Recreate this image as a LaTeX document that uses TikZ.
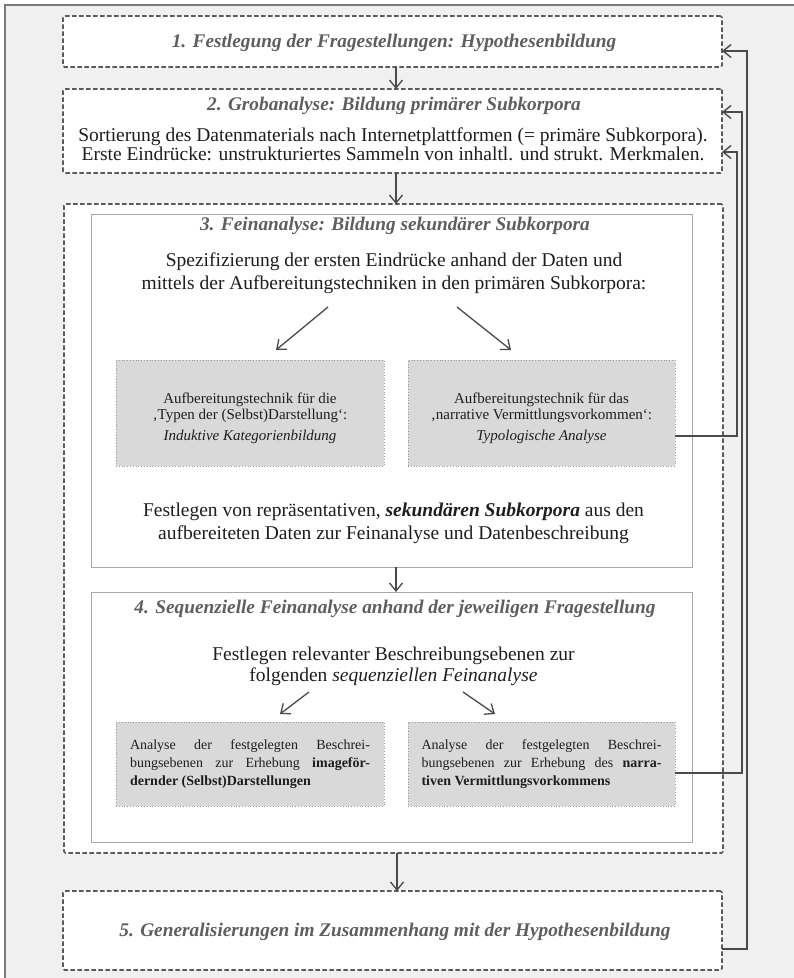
\documentclass[tikz,border=0pt]{standalone}
\usepackage{fontspec}
\setmainfont{Liberation Serif}
\usetikzlibrary{arrows.meta}
\definecolor{bgcol}{HTML}{F0F0F0}
\definecolor{framecol}{HTML}{7A7A7A}
\definecolor{dashcol}{HTML}{5A5A5A}
\definecolor{innercol}{HTML}{A8A8A8}
\definecolor{greyfill}{HTML}{D9D9D9}
\definecolor{gborder}{HTML}{9A9A9A}
\definecolor{headcol}{HTML}{5E5E5E}
\definecolor{bodycol}{HTML}{1E1E1E}
\definecolor{linecol}{HTML}{4A4A4A}
\begin{document}
\begin{tikzpicture}[x=1pt,y=-1pt,
  every node/.style={inner sep=0pt,outer sep=0pt},
  dbox/.style={draw=dashcol,line width=1.7pt,dash pattern=on 4.5pt off 2.5pt,fill=white,rounded corners=1.5pt},
  ibox/.style={draw=innercol,line width=1pt,fill=white},
  gbox/.style={draw=gborder,line width=0.8pt,dotted,fill=greyfill},
  head/.style={font=\fontsize{19.3}{22}\selectfont\bfseries\itshape,text=headcol},
  body/.style={font=\fontsize{19.5}{19}\selectfont,text=bodycol,align=center},
  bigbody/.style={font=\fontsize{19.5}{23}\selectfont,text=bodycol,align=center},
  midbody/.style={font=\fontsize{19.5}{21}\selectfont,text=bodycol,align=center},
  small/.style={font=\fontsize{15}{16}\selectfont,text=bodycol,align=center},
  smalljust/.style={font=\fontsize{14}{18}\selectfont,text=bodycol,align=justify,text width=240pt},
  arr/.style={draw=linecol,line width=1.3pt,-{Straight Barb[length=8pt,width=13pt,line width=1.3pt]}},
  link/.style={draw=linecol,line width=1.4pt,-{Straight Barb[length=8pt,width=13pt,line width=1.4pt]}}
]
% page and frame
\useasboundingbox (0,0) rectangle (794,978);
\fill[white] (0,0) rectangle (794,978);
\fill[bgcol] (5,5) rectangle (794,978);
\draw[framecol,line width=1.5pt] (5,978) -- (5,5) -- (794,5);

% step 1
\node[dbox,minimum width=659pt,minimum height=51pt] (b1) at (392.5,41.5) {};
\node[head] (h1) at (394,43) {1. Festlegung der Fragestellungen: Hypothesenbildung};

% step 2
\node[dbox,minimum width=659pt,minimum height=84pt] (b2) at (392.5,131) {};
\node[head] (h2) at (394,106) {2. Grobanalyse: Bildung primärer Subkorpora};
\node[body] (t2) at (393,144) {Sortierung des Datenmaterials nach Internetplattformen (= primäre Subkorpora).\\
Erste Eindrücke: unstrukturiertes Sammeln von inhaltl. und strukt. Merkmalen.};

% steps 3 and 4 share a dashed frame
\node[dbox,minimum width=659pt,minimum height=649pt] (b3) at (393.5,528.5) {};

% step 3
\node[ibox,minimum width=601pt,minimum height=353pt] (i3) at (391.5,390.5) {};
\node[head] (h3) at (395,226) {3. Feinanalyse: Bildung sekundärer Subkorpora};
\node[bigbody] (t3) at (394,273) {Spezifizierung der ersten Eindrücke anhand der Daten und\\
mittels der Aufbereitungstechniken in den primären Subkorpora:};
\coordinate (a3l) at (328,307);
\coordinate (a3r) at (457,307);
\node[gbox,minimum width=268pt,minimum height=106pt] (g3l) at (250,413) {};
\node[gbox,minimum width=267pt,minimum height=106pt] (g3r) at (541.5,413) {};
\node[small] (s3l) at (250,418) {Aufbereitungstechnik für die\\‚Typen der (Selbst)Darstellung‘:\\[5pt]\textit{Induktive Kategorienbildung}};
\node[small] (s3r) at (541.5,418) {Aufbereitungstechnik für das\\‚narrative Vermittlungsvorkommen‘:\\[5pt]\textit{Typologische Analyse}};
\draw[arr] (a3l) -- (276,350);
\draw[arr] (a3r) -- (511,350);
\node[bigbody] (f3) at (393.5,523.5) {Festlegen von repräsentativen, \textbf{\textit{sekundären Subkorpora}} aus den\\
aufbereiteten Daten zur Feinanalyse und Datenbeschreibung};

% step 4
\node[ibox,minimum width=601pt,minimum height=250pt] (i4) at (391.5,717) {};
\node[head] (h4) at (395,609) {4. Sequenzielle Feinanalyse anhand der jeweiligen Fragestellung};
\node[midbody] (t4) at (393.5,666) {Festlegen relevanter Beschreibungsebenen zur\\
folgenden \textit{sequenziellen Feinanalyse}};
\coordinate (a4l) at (309,692);
\coordinate (a4r) at (463,692);
\node[gbox,minimum width=268pt,minimum height=84pt] (g4l) at (250,764) {};
\node[gbox,minimum width=267pt,minimum height=84pt] (g4r) at (541.5,764) {};
\node[smalljust] (s4l) at (g4l) {Analyse der festgelegten Beschrei-\linebreak bungsebenen zur Erhebung \textbf{imageför-\linebreak dernder (Selbst)Darstellungen}};
\node[smalljust] (s4r) at (g4r) {Analyse der festgelegten Beschrei-\linebreak bungsebenen zur Erhebung des \textbf{narra-\linebreak tiven Vermittlungsvorkommens}};
\draw[arr] (a4l) -- (280,714);
\draw[arr] (a4r) -- (495,714);

% step 5
\node[dbox,minimum width=659pt,minimum height=79pt] (b5) at (392.5,930.5) {};
\node[head] (h5) at (395,932) {5. Generalisierungen im Zusammenhang mit der Hypothesenbildung};

% downward flow
\draw[arr] ([xshift=3.5pt]b1.south) -- ([xshift=3.5pt]b2.north);
\draw[arr] ([xshift=3.5pt]b2.south) -- ([xshift=2.5pt]b3.north);
\draw[arr] ([xshift=4.5pt]i3.south) -- ([xshift=4.5pt]i4.north);
\draw[arr] ([xshift=3.5pt]b3.south) -- ([xshift=4.5pt]b5.north);

% feedback loops on the right
\coordinate (r3) at (737,0);
\coordinate (r4) at (742,0);
\coordinate (r5) at (747,0);
\draw[link] ([yshift=-23pt]g3r.east) -| (r3 |- 0,152) -- ([yshift=-21pt]b2.east);
\draw[link] ([yshift=-9pt]g4r.east) -| (r4 |- 0,112) -- ([yshift=19pt]b2.east);
\draw[link] ([yshift=-18.5pt]b5.east) -| (r5 |- 0,51) -- ([yshift=-9.5pt]b1.east);
\end{tikzpicture}
\end{document}
